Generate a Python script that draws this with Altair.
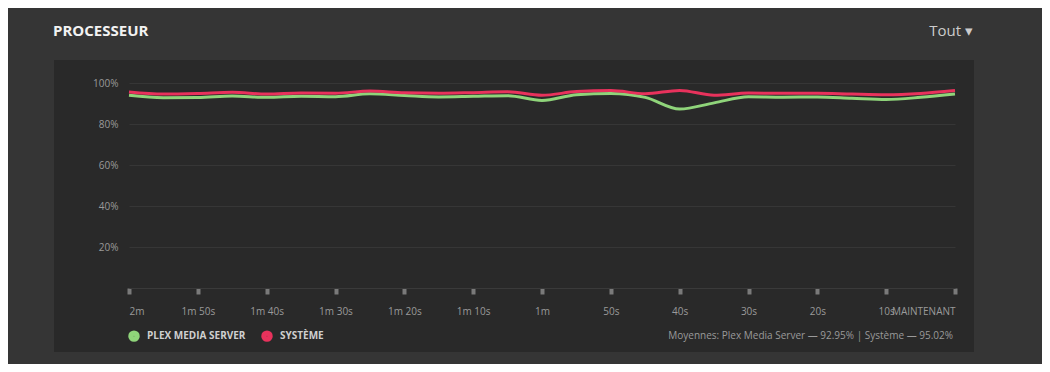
import altair as alt
import pandas as pd

# ---- data (seconds relative to now, CPU %) ----
SECONDS = [-120, -115, -110, -105, -100, -95, -90, -85, -80, -75, -70, -65, -60,
           -55, -50, -45, -40, -35, -30, -25, -20, -15, -10, -5, 0]
PLEX = [94.0, 92.8, 92.9, 93.6, 93.0, 93.5, 93.3, 94.7, 93.9, 93.2, 93.5, 93.8, 91.5,
        94.3, 94.9, 93.0, 87.3, 90.3, 93.3, 93.1, 93.2, 92.6, 92.0, 93.0, 94.6]
SYSTEME = [95.6, 94.6, 94.9, 95.5, 94.6, 95.1, 95.0, 96.1, 95.2, 95.0, 95.3, 95.7, 94.0,
           95.8, 96.3, 94.8, 96.4, 94.0, 95.1, 95.0, 95.0, 94.6, 94.3, 94.9, 96.3]
SERIES = ["PLEX MEDIA SERVER", "SYSTÈME"]
COLORS = ["#8fd47a", "#e8325c"]

TICK_VALUES = [-120, -110, -100, -90, -80, -70, -60, -50, -40, -30, -20, -10, 0]
TICK_LABELS = ["2m", "1m 50s", "1m 40s", "1m 30s", "1m 20s", "1m 10s", "1m",
               "50s", "40s", "30s", "20s", "10s", "MAINTENANT"]
Y_TICKS = [20, 40, 60, 80, 100]

TITLE = "PROCESSEUR"
RANGE_LABEL = "Tout ▾"
AVERAGES = "Moyennes: Plex Media Server — 92.95% | Système — 95.02%"

rows = []
for s, p, sy in zip(SECONDS, PLEX, SYSTEME):
    rows.append({"t": s, "v": p, "serie": SERIES[0]})
    rows.append({"t": s, "v": sy, "serie": SERIES[1]})
df = pd.DataFrame(rows)

label_expr = "".join(
    f"datum.value == {v} ? '{l}' : " for v, l in zip(TICK_VALUES, TICK_LABELS)
) + "''"

FONT = "Open Sans"
one = pd.DataFrame({"k": [0]})

panel = alt.Chart(one).mark_rect(color="#292929").encode(
    x=alt.value(-75), x2=alt.value(845), y=alt.value(-23), y2=alt.value(269)
)

lines = alt.Chart(df).mark_line(interpolate="monotone", strokeWidth=3).encode(
    x=alt.X("t:Q",
            scale=alt.Scale(domain=[-120, 0], nice=False, zero=False),
            axis=alt.Axis(values=TICK_VALUES, labelExpr=label_expr, title=None,
                          grid=False, domainColor="#3a3a3a", domainWidth=1,
                          tickColor="#7a7a7a", tickWidth=4, tickSize=6,
                          labelFlush=True, labelOverlap=False, labelPadding=12,
                          labelFontSize=10, labelColor="#9a9a9a", labelFont=FONT,
                          zindex=1)),
    y=alt.Y("v:Q",
            scale=alt.Scale(domain=[0, 100], nice=False),
            axis=alt.Axis(values=Y_TICKS, labelExpr="datum.value + '%'", title=None,
                          domain=False, ticks=False, gridColor="#363636",
                          labelPadding=11, labelFontSize=10, labelColor="#9a9a9a",
                          labelFont=FONT, zindex=1)),
    color=alt.Color("serie:N",
                    scale=alt.Scale(domain=SERIES, range=COLORS),
                    legend=alt.Legend(orient="none", legendX=-1, legendY=247,
                                      direction="horizontal", title=None,
                                      symbolType="circle", symbolSize=30,
                                      symbolStrokeWidth=6, symbolOpacity=1,
                                      labelFont=FONT, labelFontSize=10,
                                      labelFontWeight="bold", labelColor="#cfcfcf",
                                      labelOffset=7, columnPadding=6)),
    order=alt.Order("serie:N"),
)

title = alt.Chart(one).mark_text(
    text=TITLE, font=FONT, fontSize=15, fontWeight="bold", color="#f2f2f2",
    align="left", baseline="alphabetic"
).encode(x=alt.value(-76), y=alt.value(-47))

tout = alt.Chart(one).mark_text(
    text=RANGE_LABEL, font=FONT, fontSize=15, color="#cccccc",
    align="right", baseline="alphabetic"
).encode(x=alt.value(844), y=alt.value(-47))

avg = alt.Chart(one).mark_text(
    text=AVERAGES, font=FONT, fontSize=10, color="#9a9a9a",
    align="right", baseline="middle"
).encode(x=alt.value(824), y=alt.value(253))

chart = alt.layer(panel, lines, title, tout, avg).properties(
    width=826, height=205,
    padding={"left": 121, "top": 75, "right": 87, "bottom": 76},
    autosize=alt.AutoSizeParams(type="none"),
    background="#353535",
).configure_view(stroke=None)

chart.save("out.html", embed_options={"renderer": "svg", "actions": False})
